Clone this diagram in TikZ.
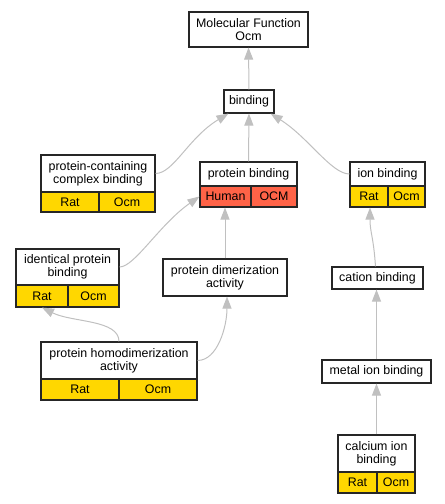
\documentclass[tikz,border=0pt]{standalone}
\usepackage{fontspec}
\setmainfont{Liberation Sans}
\usetikzlibrary{arrows.meta}
\definecolor{goldc}{HTML}{FFD700}
\definecolor{tomatoc}{HTML}{FF6347}
\definecolor{edgec}{HTML}{C0C0C0}
\newcommand\lblfont{\fontsize{12.4pt}{13pt}\selectfont}
\begin{document}
\begin{tikzpicture}[x=1pt,y=-1pt,
  term/.style={draw=black!85, line width=1.1pt, fill=white, inner sep=0pt, align=center, font=\lblfont},
  sz/.style 2 args={minimum width=#1pt, minimum height=#2pt},
  goldcell/.style={term, fill=goldc},
  redcell/.style={term, fill=tomatoc},
  edge/.style={draw=edgec, line width=1pt, -{Triangle[length=12pt,width=9pt]}}]
\useasboundingbox (0,0) rectangle (445,504);
% nodes
\node[term, sz={119}{35}] (mf) at (248.5,29.5) {Molecular Function\\Ocm};
\node[term, sz={50}{23}] (bind) at (249,101.5) {binding};
\node[term, sz={114}{37}] (pcc) at (98,173.5) {protein-containing\\complex binding};
\node[goldcell, sz={58}{20}] (pccR) at (70,202) {Rat};
\node[goldcell, sz={56}{20}] (pccO) at (127,202) {Ocm};
\node[term, sz={97}{24}] (pb) at (248.5,174) {protein binding};
\node[redcell, sz={51}{21}] (pbH) at (225.5,196.5) {Human};
\node[redcell, sz={46}{21}] (pbO) at (274,196.5) {OCM};
\node[term, sz={75}{24}] (ion) at (387.5,174) {ion binding};
\node[goldcell, sz={38}{21}] (ionR) at (369,196.5) {Rat};
\node[goldcell, sz={37}{21}] (ionO) at (406.5,196.5) {Ocm};
\node[term, sz={103}{36}] (ipb) at (67.5,267) {identical protein\\binding};
\node[goldcell, sz={52}{22}] (ipbR) at (42,296) {Rat};
\node[goldcell, sz={51}{22}] (ipbO) at (93.5,296) {Ocm};
\node[term, sz={124}{37}] (pda) at (225,277.5) {protein dimerization\\activity};
\node[term, sz={91}{22}] (cat) at (377.5,278) {cation binding};
\node[term, sz={156}{37}] (hd) at (119,360.5) {protein homodimerization\\activity};
\node[goldcell, sz={78}{21}] (hdR) at (80,389.5) {Rat};
\node[goldcell, sz={78}{21}] (hdO) at (158,389.5) {Ocm};
\node[term, sz={109}{23}] (metal) at (376.5,371.5) {metal ion binding};
\node[term, sz={77}{37}] (ca) at (376.5,453.5) {calcium ion\\binding};
\node[goldcell, sz={39}{21}] (caR) at (357.5,482.5) {Rat};
\node[goldcell, sz={38}{21}] (caO) at (396,482.5) {Ocm};
% edges
\draw[edge] (bind.north) -- (mf.south);
\draw[edge] (pb.north) -- (bind.south);
\draw[edge] (pcc.east) .. controls +(18,0) and +(-40,24) .. ([xshift=5pt]bind.south west);
\draw[edge] (ion.west) .. controls +(-18,0) and +(38,24) .. ([xshift=-4pt]bind.south east);
\draw[edge] (ipb.east) .. controls +(15,0) and +(-40,28) .. (pbH.west);
\draw[edge] (pda.north) -- (pda.north |- pbH.south);
\draw[edge] ([xshift=-2pt]cat.north) .. controls +(-2,-30) and +(0,25) .. ([xshift=1pt]ionR.south);
\draw[edge] (metal.north) -- (metal.north |- cat.south);
\draw[edge] (ca.north) -- (ca.north |- metal.south);
\draw[edge] (hd.north) .. controls +(0,-22) and +(30,15) .. (ipbR.south);
\draw[edge] (hd.east) .. controls +(20,0) and +(0,30) .. ([xshift=2pt]pda.south);
\end{tikzpicture}
\end{document}
